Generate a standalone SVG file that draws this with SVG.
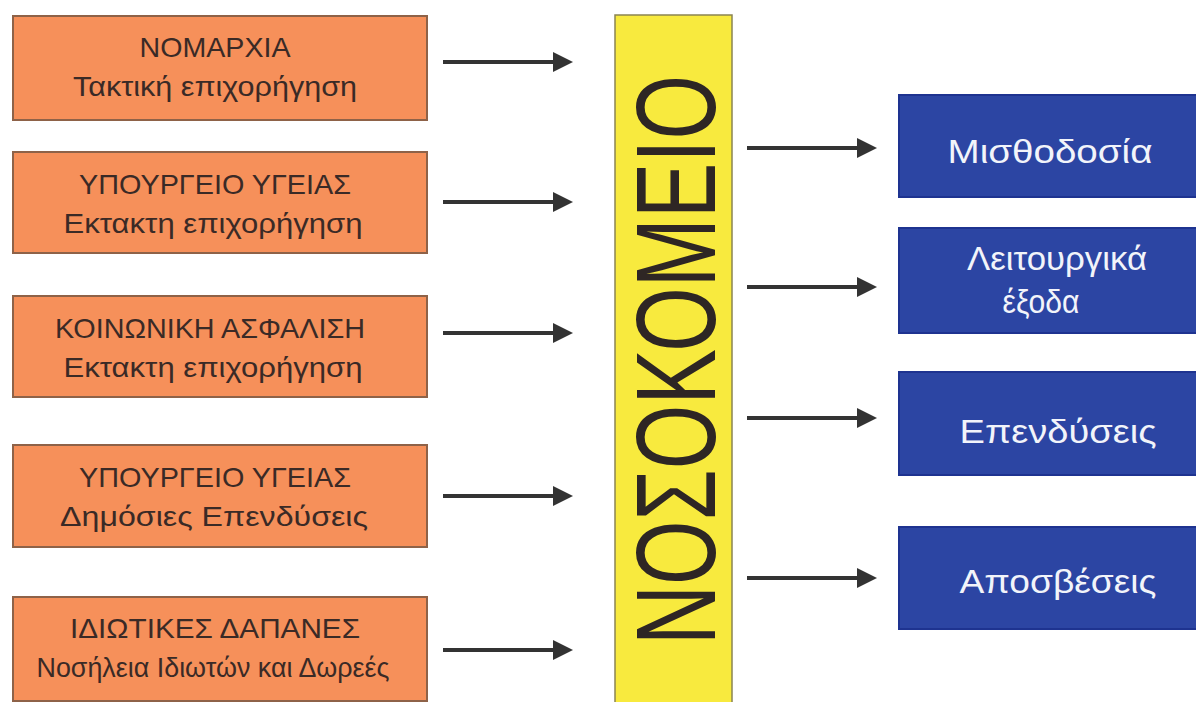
<svg xmlns="http://www.w3.org/2000/svg" width="1196" height="702" viewBox="0 0 1196 702">
<defs>
<style>
.src rect{fill:#F6905A;stroke:#8E6248;stroke-width:2}
.src text{font-family:"Liberation Sans",Arial,sans-serif;font-size:28px;fill:#3A2A26;text-anchor:middle}
.out rect{fill:#2C45A3;stroke:#1E3390;stroke-width:2}
.out text{font-family:"Liberation Sans",Arial,sans-serif;font-size:34px;fill:#F2F4FA;text-anchor:middle}
.conn line{stroke:#333;stroke-width:4;marker-end:url(#ah)}
</style>
<marker id="ah" markerUnits="userSpaceOnUse" markerWidth="22" markerHeight="22" refX="14" refY="10" orient="auto">
<path d="M0,0 L20,10 L0,20 Z" fill="#333"/>
</marker>
</defs>
<rect width="1196" height="702" fill="#FFFFFF"/>

<g id="src1" class="src">
<rect x="13" y="16" width="414" height="104"/>
<text x="215" y="57" textLength="151" lengthAdjust="spacingAndGlyphs">ΝΟΜΑΡΧΙΑ</text>
<text x="215" y="96" textLength="284" lengthAdjust="spacingAndGlyphs">Τακτική επιχορήγηση</text>
</g>
<g id="src2" class="src">
<rect x="13" y="152" width="414" height="101"/>
<text x="215" y="194" textLength="272" lengthAdjust="spacingAndGlyphs">ΥΠΟΥΡΓΕΙΟ ΥΓΕΙΑΣ</text>
<text x="213" y="233" textLength="299" lengthAdjust="spacingAndGlyphs">Εκτακτη επιχορήγηση</text>
</g>
<g id="src3" class="src">
<rect x="13" y="296" width="414" height="101"/>
<text x="210" y="338" textLength="310" lengthAdjust="spacingAndGlyphs">ΚΟΙΝΩΝΙΚΗ ΑΣΦΑΛΙΣΗ</text>
<text x="213" y="377" textLength="299" lengthAdjust="spacingAndGlyphs">Εκτακτη επιχορήγηση</text>
</g>
<g id="src4" class="src">
<rect x="13" y="445" width="414" height="102"/>
<text x="215" y="487" textLength="272" lengthAdjust="spacingAndGlyphs">ΥΠΟΥΡΓΕΙΟ ΥΓΕΙΑΣ</text>
<text x="214" y="526" textLength="308" lengthAdjust="spacingAndGlyphs">Δημόσιες Επενδύσεις</text>
</g>
<g id="src5" class="src">
<rect x="13" y="597" width="414" height="104"/>
<text x="215" y="638" textLength="290" lengthAdjust="spacingAndGlyphs">ΙΔΙΩΤΙΚΕΣ ΔΑΠΑΝΕΣ</text>
<text x="213" y="677" textLength="353" lengthAdjust="spacingAndGlyphs">Νοσήλεια Ιδιωτών και Δωρεές</text>
</g>

<g id="hospital">
<rect x="615" y="15" width="117" height="700" fill="#F8EA3E" stroke="#8A8452" stroke-width="1.5"/>
<text transform="translate(715,360) rotate(-90)" x="0" y="0" font-family="'Liberation Sans',Arial,sans-serif" font-size="113" fill="#2E2624" text-anchor="middle" textLength="570" lengthAdjust="spacingAndGlyphs">ΝΟΣΟΚΟΜΕΙΟ</text>
</g>

<g id="out1" class="out">
<rect x="899" y="95" width="310" height="102"/>
<text x="1050" y="163" textLength="205" lengthAdjust="spacingAndGlyphs">Μισθοδοσία</text>
</g>
<g id="out2" class="out">
<rect x="899" y="228" width="310" height="105"/>
<text x="1057" y="270" textLength="180" lengthAdjust="spacingAndGlyphs">Λειτουργικά</text>
<text x="1041" y="313" textLength="77" lengthAdjust="spacingAndGlyphs">έξοδα</text>
</g>
<g id="out3" class="out">
<rect x="899" y="372" width="310" height="103"/>
<text x="1058" y="443" textLength="197" lengthAdjust="spacingAndGlyphs">Επενδύσεις</text>
</g>
<g id="out4" class="out">
<rect x="899" y="527" width="310" height="102"/>
<text x="1058" y="593" textLength="197" lengthAdjust="spacingAndGlyphs">Αποσβέσεις</text>
</g>

<g id="connectors" class="conn">
<line x1="443" y1="62" x2="567" y2="62"/>
<line x1="443" y1="202" x2="567" y2="202"/>
<line x1="443" y1="333" x2="567" y2="333"/>
<line x1="443" y1="496" x2="567" y2="496"/>
<line x1="443" y1="650" x2="567" y2="650"/>
<line x1="747" y1="148" x2="871" y2="148"/>
<line x1="747" y1="287" x2="871" y2="287"/>
<line x1="747" y1="418" x2="871" y2="418"/>
<line x1="747" y1="578" x2="871" y2="578"/>
</g>
</svg>
